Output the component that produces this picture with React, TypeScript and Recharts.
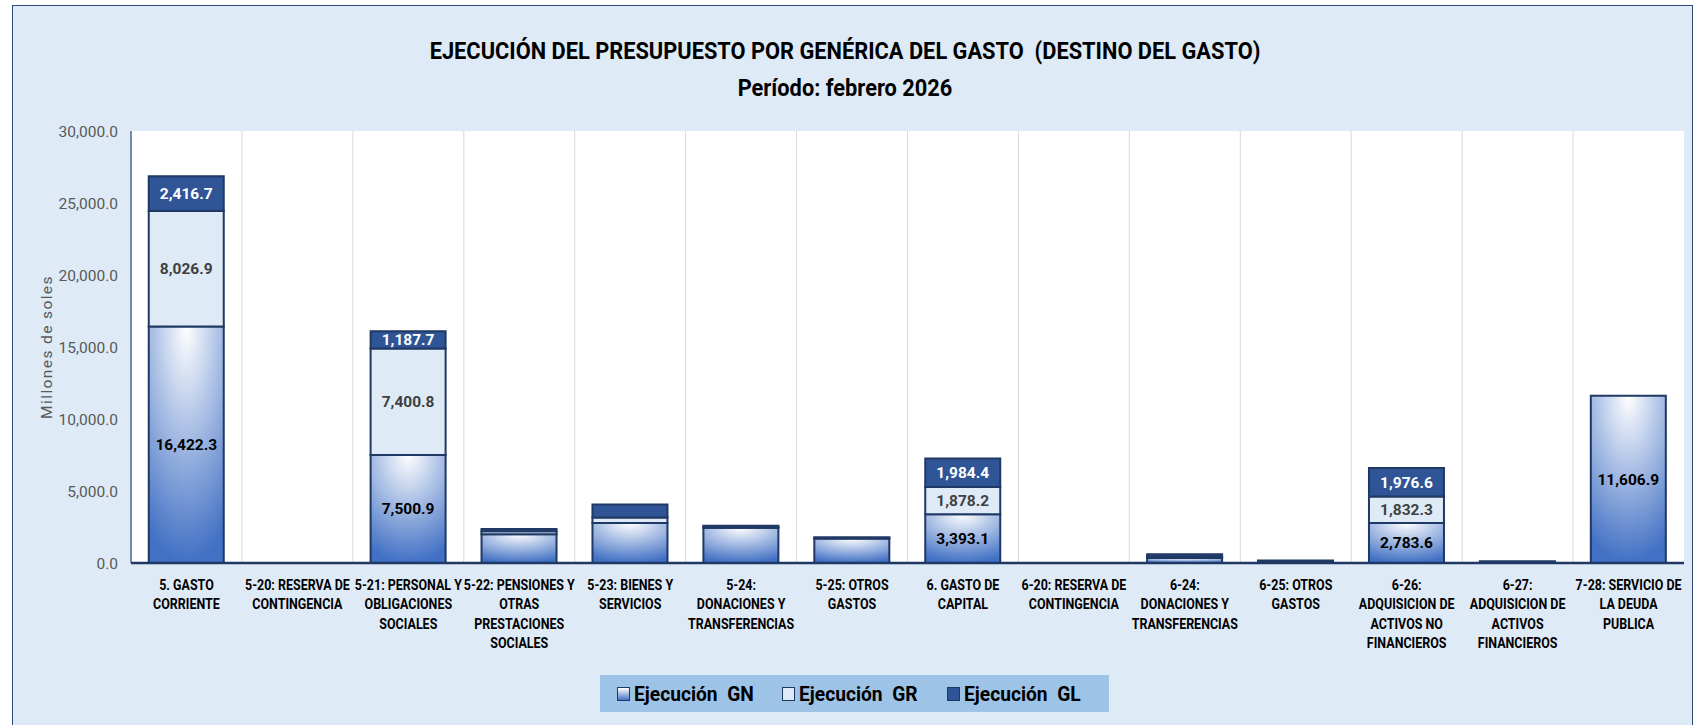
import {
  BarChart, Bar, XAxis, YAxis, CartesianGrid, Legend, LabelList,
} from "recharts";

const FONT = "Roboto, 'DejaVu Sans Condensed', sans-serif";
const NAVY = "#1F3864";

const categories = [
  "5. GASTO\nCORRIENTE",
  "5-20: RESERVA DE\nCONTINGENCIA",
  "5-21: PERSONAL Y\nOBLIGACIONES\nSOCIALES",
  "5-22: PENSIONES Y\nOTRAS\nPRESTACIONES\nSOCIALES",
  "5-23: BIENES Y\nSERVICIOS",
  "5-24:\nDONACIONES Y\nTRANSFERENCIAS",
  "5-25: OTROS\nGASTOS",
  "6. GASTO DE\nCAPITAL",
  "6-20: RESERVA DE\nCONTINGENCIA",
  "6-24:\nDONACIONES Y\nTRANSFERENCIAS",
  "6-25: OTROS\nGASTOS",
  "6-26:\nADQUISICION DE\nACTIVOS NO\nFINANCIEROS",
  "6-27:\nADQUISICION DE\nACTIVOS\nFINANCIEROS",
  "7-28: SERVICIO DE\nLA DEUDA\nPUBLICA",
];

const ejecGN = [16422.3, 0, 7500.9, 2000, 2780, 2450, 1700, 3393.1, 0, 350, 60, 2783.6, 40, 11606.9];
const ejecGR = [8026.9, 0, 7400.8, 210, 380, 25, 12, 1878.2, 0, 100, 0, 1832.3, 0, 0];
const ejecGL = [2416.7, 0, 1187.7, 150, 900, 110, 70, 1984.4, 0, 150, 120, 1976.6, 80, 0];

// categories whose segments carry value labels in the original
const labeledCats = [0, 2, 7, 11, 13];

const yTicks = [0, 5000, 10000, 15000, 20000, 25000, 30000];

const data = categories.map((name, i) => {
  const show = labeledCats.includes(i);
  return {
    name, gn: ejecGN[i], gr: ejecGR[i], gl: ejecGL[i],
    gnLbl: show ? ejecGN[i] : null,
    grLbl: show ? ejecGR[i] : null,
    glLbl: show ? ejecGL[i] : null,
  };
});

const fmt = (v: number) =>
  v.toLocaleString("en-US", { minimumFractionDigits: 1, maximumFractionDigits: 1 });
const lbl = (v: any) => (v == null || v === 0 ? "" : fmt(Number(v)));

function XTick({ x, y, payload }: any) {
  const lines = String(payload.value).split("\n");
  return (
    <text x={x} y={y} textAnchor="middle" fontFamily={FONT} fontWeight="bold" fontSize={14.5} fill="#000"
      transform={`translate(${x},0) scale(0.86,1) translate(${-x},0)`}>
      {lines.map((l, i) => (
        <tspan key={i} x={x} dy={i === 0 ? 19 : 19.5}>{l}</tspan>
      ))}
    </text>
  );
}

const legendOrder = ["gn", "gr", "gl"];

function LegendBox({ payload }: any) {
  const swatch: Record<string, string> = {
    gn: "linear-gradient(#ffffff, #4472C4)",
    gr: "#DEEBF7",
    gl: "#2F5597",
  };
  const items = [...(payload || [])].sort(
    (a: any, b: any) => legendOrder.indexOf(a.dataKey) - legendOrder.indexOf(b.dataKey),
  );
  return (
    <div style={{
      background: "#9DC3E6", height: 37, display: "flex", alignItems: "center",
      justifyContent: "center", gap: 20, fontFamily: FONT, fontWeight: "bold", fontSize: 20, color: "#000",
    }}>
      {items.map((p: any) => (
        <div key={p.dataKey} style={{ display: "flex", alignItems: "center", gap: 4 }}>
          <span style={{
            width: 11, height: 12, border: `1.5px solid ${NAVY}`, background: swatch[p.dataKey],
            display: "inline-block",
          }} />
          <span style={{ whiteSpace: "pre", display: "inline-block", width: 128 }}>
            <span style={{ display: "inline-block", transform: "scaleX(0.96)", transformOrigin: "left" }}>
              {p.value}
            </span>
          </span>
        </div>
      ))}
    </div>
  );
}

export default function App() {
  return (
    <div style={{ position: "absolute", left: 0, top: 0, width: 1698, height: 725, background: "#fff", overflow: "hidden" }}>
      <div style={{
        position: "absolute", left: 12, top: 5, width: 1681, height: 740,
        background: "#DEEAF6", border: "1.5px solid #2E4A7D", boxSizing: "border-box",
      }} />
      <div style={{
        position: "absolute", left: 0, width: 1698, top: 32, textAlign: "center",
        fontFamily: FONT, fontWeight: "bold", fontSize: 24.5, lineHeight: "37px", color: "#000",
      }}>
        <div style={{ transform: "translateX(-4px) scaleX(0.89)" }}>
          EJECUCIÓN DEL PRESUPUESTO POR GENÉRICA DEL GASTO&nbsp;&nbsp;(DESTINO DEL GASTO)
        </div>
        <div style={{ transform: "translateX(-4px) scaleX(0.89)" }}>Período: febrero 2026</div>
      </div>
      <div style={{ position: "absolute", left: 0, top: 0 }}>
        <BarChart
          width={1698} height={725} data={data}
          margin={{ top: 131, right: 14, bottom: 62, left: 20 }}
          barCategoryGap="16%"
        >
          <defs>
            <radialGradient id="gnGrad" cx="50%" cy="0%" r="100%" fx="50%" fy="0%">
              <stop offset="0%" stopColor="#ffffff" />
              <stop offset="100%" stopColor="#4170C4" />
            </radialGradient>
          </defs>
          <CartesianGrid
            fill="#ffffff" horizontal={false} stroke="#D9D9D9"
            verticalCoordinatesGenerator={({ offset }: any) =>
              categories.map((_, i) => offset.left + (i * offset.width) / categories.length)
            }
          />
          <XAxis
            dataKey="name" interval={0} height={100} tick={<XTick />}
            tickLine={false} axisLine={{ stroke: NAVY, strokeWidth: 2.5 }}
          />
          <XAxis xAxisId="top" orientation="top" dataKey="name" height={0} tick={false}
            tickLine={false} axisLine={{ stroke: "#2E4A7D", strokeWidth: 1.2 }} />
          <YAxis
            width={111} domain={[0, 30000]} ticks={yTicks} tickFormatter={fmt}
            tickLine={false} tickSize={0} tickMargin={13}
            tick={{ fill: "#595959", fontSize: 15.5, fontFamily: FONT }}
            axisLine={{ stroke: "#2E4A7D", strokeWidth: 1.2 }}
            label={{
              value: "Millones de soles", angle: -90, position: "insideLeft", offset: 26,
              style: { fill: "#595959", fontSize: 15.5, fontFamily: FONT, letterSpacing: 1.4, textAnchor: "middle" },
            }}
          />
          <YAxis yAxisId="right" orientation="right" width={0} tick={false} tickLine={false}
            axisLine={{ stroke: "#2E4A7D", strokeWidth: 1.2 }} />
          <Legend
            layout="vertical" align="center" verticalAlign="middle"
            wrapperStyle={{ left: 600, top: 675, width: 509 }}
            content={<LegendBox />}
          />
          <Bar dataKey="gn" name="Ejecución  GN" stackId="a" fill="url(#gnGrad)"
            stroke={NAVY} strokeWidth={2} isAnimationActive={false}>
            <LabelList dataKey="gnLbl" position="center" formatter={lbl}
              style={{ fill: "#000", fontSize: 15.5, fontWeight: "bold", fontFamily: FONT }} />
          </Bar>
          <Bar dataKey="gr" name="Ejecución  GR" stackId="a" fill="#DEEBF7"
            stroke={NAVY} strokeWidth={2} isAnimationActive={false}>
            <LabelList dataKey="grLbl" position="center" formatter={lbl}
              style={{ fill: "#404040", fontSize: 15.5, fontWeight: "bold", fontFamily: FONT }} />
          </Bar>
          <Bar dataKey="gl" name="Ejecución  GL" stackId="a" fill="#2F5597"
            stroke={NAVY} strokeWidth={2} isAnimationActive={false}>
            <LabelList dataKey="glLbl" position="center" formatter={lbl}
              style={{ fill: "#fff", fontSize: 15.5, fontWeight: "bold", fontFamily: FONT }} />
          </Bar>
        </BarChart>
      </div>
    </div>
  );
}
